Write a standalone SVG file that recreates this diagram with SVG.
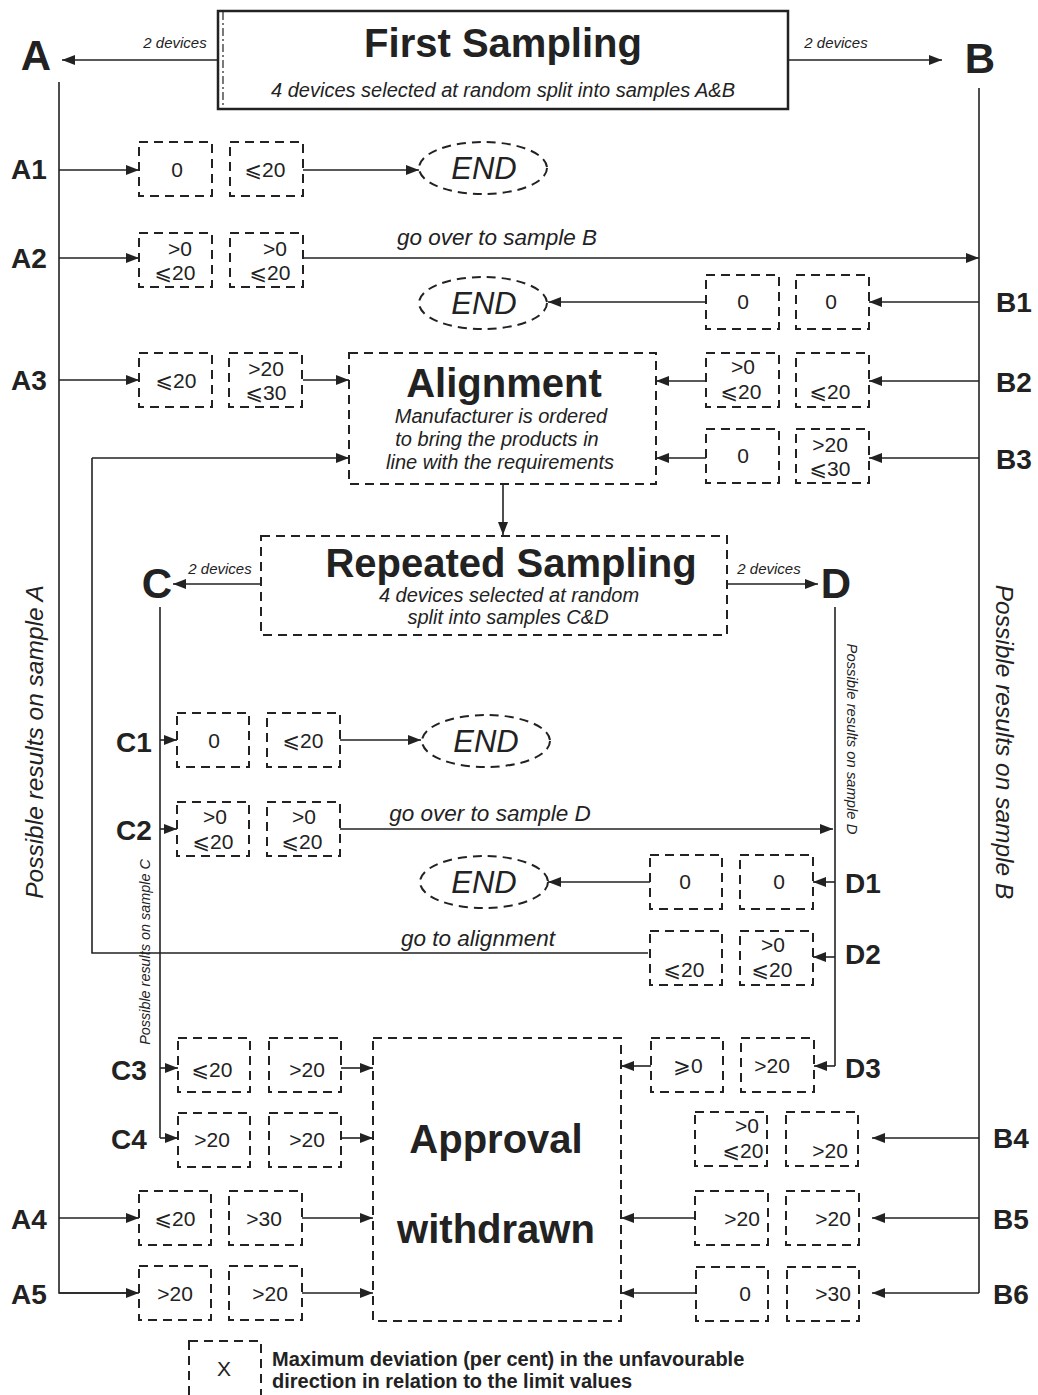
<svg xmlns="http://www.w3.org/2000/svg" width="1038" height="1395" viewBox="0 0 1038 1395">
<style>
.bx{fill:none;stroke:#222;stroke-width:2;stroke-dasharray:9 6}
.ln{fill:none;stroke:#222;stroke-width:1.6}
.ar{fill:none;stroke:#222;stroke-width:1.6;marker-end:url(#ah)}
.t{font-family:"Liberation Sans","DejaVu Sans",sans-serif;fill:#222}
.num{font-size:21px;text-anchor:middle}
.lbl{font-size:28px;font-weight:bold}
.big{font-size:40px;font-weight:bold}
.it{font-style:italic}
.dev{font-size:15px;font-style:italic}
.sub{font-size:20px;font-style:italic;text-anchor:middle}
.go{font-size:22.5px;font-style:italic;text-anchor:middle}
.end{font-size:31px;font-style:italic;text-anchor:middle}
</style>
<defs>
<marker id="ah" markerUnits="userSpaceOnUse" markerWidth="14" markerHeight="12" refX="13" refY="5" orient="auto">
<path d="M0,0 L13,5 L0,10 z" fill="#222"/>
</marker>
</defs>
<rect width="1038" height="1395" fill="#fff"/>

<g id="connectors">
<line class="ar" x1="217" y1="60" x2="62" y2="60"/>
<line class="ar" x1="789" y1="60" x2="942" y2="60"/>
<path class="ln" d="M59,82 V1293 H137"/>
<path class="ar" d="M59,1293 H139"/>
<path class="ln" d="M979,88 V1293"/>
<line class="ar" x1="59" y1="170" x2="139" y2="170"/>
<line class="ar" x1="303" y1="170" x2="419" y2="170"/>
<line class="ar" x1="59" y1="258" x2="139" y2="258"/>
<line class="ar" x1="303" y1="258" x2="979" y2="258"/>
<line class="ar" x1="979" y1="302" x2="869" y2="302"/>
<line class="ar" x1="706" y1="302" x2="548" y2="302"/>
<line class="ar" x1="59" y1="380" x2="139" y2="380"/>
<line class="ar" x1="303" y1="380" x2="349" y2="380"/>
<line class="ar" x1="979" y1="381" x2="869" y2="381"/>
<line class="ar" x1="706" y1="381" x2="656" y2="381"/>
<line class="ar" x1="979" y1="458" x2="869" y2="458"/>
<line class="ar" x1="706" y1="458" x2="656" y2="458"/>
<path class="ln" d="M648,953 H92 V458"/>
<line class="ar" x1="92" y1="458" x2="349" y2="458"/>
<line class="ar" x1="503" y1="484" x2="503" y2="535"/>
<line class="ar" x1="261" y1="584" x2="173" y2="584"/>
<line class="ar" x1="727" y1="584" x2="818" y2="584"/>
<path class="ln" d="M160,607 V1138"/>
<path class="ln" d="M835,607 V1066"/>
<line class="ar" x1="160" y1="740" x2="177" y2="740"/>
<line class="ar" x1="340" y1="740" x2="421" y2="740"/>
<line class="ar" x1="160" y1="829" x2="177" y2="829"/>
<line class="ar" x1="340" y1="829" x2="833" y2="829"/>
<line class="ar" x1="835" y1="882" x2="813" y2="882"/>
<line class="ar" x1="650" y1="882" x2="548" y2="882"/>
<line class="ar" x1="835" y1="957" x2="813" y2="957"/>
<line class="ar" x1="835" y1="1066" x2="814" y2="1066"/>
<line class="ar" x1="651" y1="1066" x2="621" y2="1066"/>
<line class="ar" x1="160" y1="1068" x2="178" y2="1068"/>
<line class="ar" x1="341" y1="1068" x2="373" y2="1068"/>
<line class="ar" x1="160" y1="1138" x2="178" y2="1138"/>
<line class="ar" x1="341" y1="1138" x2="373" y2="1138"/>
<line class="ar" x1="979" y1="1138" x2="872" y2="1138"/>
<line class="ar" x1="59" y1="1218" x2="139" y2="1218"/>
<line class="ar" x1="302" y1="1218" x2="373" y2="1218"/>
<line class="ar" x1="979" y1="1218" x2="872" y2="1218"/>
<line class="ar" x1="695" y1="1218" x2="621" y2="1218"/>
<line class="ar" x1="302" y1="1293" x2="373" y2="1293"/>
<line class="ar" x1="979" y1="1293" x2="872" y2="1293"/>
<line class="ar" x1="696" y1="1293" x2="621" y2="1293"/>
</g>

<g id="first-sampling">
<rect x="218" y="11" width="570" height="98" fill="none" stroke="#222" stroke-width="2.5"/>
<line x1="223" y1="12" x2="223" y2="108" stroke="#222" stroke-width="1.2" stroke-dasharray="8 3 2 3"/>
<text class="t big" x="503" y="57" text-anchor="middle">First Sampling</text>
<text class="t sub" x="503" y="97">4 devices selected at random split into samples A&amp;B</text>
</g>
<g id="label-A"><text class="t" font-size="42" font-weight="bold" x="36" y="70" text-anchor="middle">A</text><text class="t dev" x="175" y="48" text-anchor="middle">2 devices</text></g>
<g id="label-B"><text class="t" font-size="42" font-weight="bold" x="980" y="73" text-anchor="middle">B</text><text class="t dev" x="836" y="48" text-anchor="middle">2 devices</text></g>

<g id="side-labels">
<text class="t it" font-size="24.5" transform="translate(43,742) rotate(-90)" text-anchor="middle">Possible results on sample A</text>
<text class="t it" font-size="24.5" transform="translate(996,742) rotate(90)" text-anchor="middle">Possible results on sample B</text>
<text class="t it" font-size="14.4" transform="translate(150,952) rotate(-90)" text-anchor="middle">Possible results on sample C</text>
<text class="t it" font-size="14.8" transform="translate(847,739) rotate(90)" text-anchor="middle">Possible results on sample D</text>
</g>

<g id="row-labels" class="t lbl">
<text x="11" y="179">A1</text>
<text x="11" y="268">A2</text>
<text x="11" y="390">A3</text>
<text x="11" y="1229">A4</text>
<text x="11" y="1304">A5</text>
<text x="996" y="312">B1</text>
<text x="996" y="392">B2</text>
<text x="996" y="469">B3</text>
<text x="993" y="1148">B4</text>
<text x="993" y="1229">B5</text>
<text x="993" y="1304">B6</text>
<text x="116" y="752">C1</text>
<text x="116" y="840">C2</text>
<text x="111" y="1080">C3</text>
<text x="111" y="1149">C4</text>
<text x="845" y="893">D1</text>
<text x="845" y="964">D2</text>
<text x="845" y="1078">D3</text>
</g>

<g id="A1"><rect class="bx" x="139" y="142" width="73" height="54"/><rect class="bx" x="230" y="142" width="73" height="54"/>
<text class="t num" x="177" y="177">0</text><text class="t num" x="265" y="177">⩽20</text></g>
<g id="end1"><ellipse class="bx" cx="483" cy="168" rx="64" ry="26"/><text class="t end" x="484" y="179">END</text></g>
<g id="A2"><rect class="bx" x="139" y="233" width="73" height="54"/><rect class="bx" x="230" y="233" width="73" height="54"/>
<text class="t num" x="180" y="256">&gt;0</text><text class="t num" x="175" y="280">⩽20</text>
<text class="t num" x="275" y="256">&gt;0</text><text class="t num" x="270" y="280">⩽20</text>
<text class="t go" x="497" y="245">go over to sample B</text></g>
<g id="B1"><rect class="bx" x="706" y="275" width="73" height="54"/><rect class="bx" x="796" y="275" width="73" height="54"/>
<text class="t num" x="743" y="309">0</text><text class="t num" x="831" y="309">0</text></g>
<g id="end2"><ellipse class="bx" cx="483" cy="303" rx="64" ry="26"/><text class="t end" x="484" y="314">END</text></g>
<g id="A3"><rect class="bx" x="139" y="353" width="73" height="54"/><rect class="bx" x="229" y="353" width="73" height="54"/>
<text class="t num" x="176" y="388">⩽20</text>
<text class="t num" x="266" y="376">&gt;20</text><text class="t num" x="266" y="400">⩽30</text></g>
<g id="alignment"><rect class="bx" x="349" y="353" width="307" height="131"/>
<text class="t" x="504" y="397" font-size="40" font-weight="bold" text-anchor="middle">Alignment</text>
<text class="t sub" x="501" y="423">Manufacturer is ordered</text>
<text class="t sub" x="497" y="446">to bring the products in</text>
<text class="t sub" x="500" y="469">line with the requirements</text></g>
<g id="B2"><rect class="bx" x="706" y="353" width="73" height="54"/><rect class="bx" x="796" y="353" width="73" height="54"/>
<text class="t num" x="743" y="374">&gt;0</text><text class="t num" x="741" y="399">⩽20</text>
<text class="t num" x="830" y="399">⩽20</text></g>
<g id="B3"><rect class="bx" x="706" y="429" width="73" height="54"/><rect class="bx" x="796" y="429" width="73" height="54"/>
<text class="t num" x="743" y="463">0</text>
<text class="t num" x="830" y="452">&gt;20</text><text class="t num" x="830" y="476">⩽30</text></g>
<text class="t go" x="478" y="946">go to alignment</text>

<g id="repeated-sampling"><rect class="bx" x="261" y="536" width="466" height="99"/>
<text class="t" x="511" y="577" font-size="40" font-weight="bold" text-anchor="middle">Repeated Sampling</text>
<text class="t sub" x="509" y="602">4 devices selected at random</text>
<text class="t sub" x="508" y="624">split into samples C&amp;D</text></g>
<g id="label-C"><text class="t" font-size="42" font-weight="bold" x="157" y="598" text-anchor="middle">C</text><text class="t dev" x="220" y="574" text-anchor="middle">2 devices</text></g>
<g id="label-D"><text class="t" font-size="42" font-weight="bold" x="836" y="598" text-anchor="middle">D</text><text class="t dev" x="769" y="574" text-anchor="middle">2 devices</text></g>

<g id="C1"><rect class="bx" x="177" y="713" width="72" height="54"/><rect class="bx" x="267" y="713" width="73" height="54"/>
<text class="t num" x="214" y="748">0</text><text class="t num" x="303" y="748">⩽20</text></g>
<g id="end3"><ellipse class="bx" cx="486" cy="741" rx="64" ry="26"/><text class="t end" x="486" y="752">END</text></g>
<g id="C2"><rect class="bx" x="177" y="802" width="72" height="54"/><rect class="bx" x="267" y="802" width="73" height="54"/>
<text class="t num" x="215" y="824">&gt;0</text><text class="t num" x="213" y="849">⩽20</text>
<text class="t num" x="304" y="824">&gt;0</text><text class="t num" x="302" y="849">⩽20</text>
<text class="t go" x="490" y="821">go over to sample D</text></g>
<g id="D1"><rect class="bx" x="650" y="855" width="72" height="54"/><rect class="bx" x="740" y="855" width="73" height="54"/>
<text class="t num" x="685" y="889">0</text><text class="t num" x="779" y="889">0</text></g>
<g id="end4"><ellipse class="bx" cx="484" cy="882" rx="64" ry="26"/><text class="t end" x="484" y="893">END</text></g>
<g id="D2"><rect class="bx" x="650" y="931" width="72" height="54"/><rect class="bx" x="740" y="931" width="73" height="54"/>
<text class="t num" x="684" y="977">⩽20</text>
<text class="t num" x="773" y="952">&gt;0</text><text class="t num" x="772" y="977">⩽20</text></g>
<g id="D3"><rect class="bx" x="651" y="1038" width="72" height="54"/><rect class="bx" x="741" y="1038" width="73" height="54"/>
<text class="t num" x="688" y="1073">⩾0</text><text class="t num" x="772" y="1073">&gt;20</text></g>
<g id="C3"><rect class="bx" x="178" y="1038" width="72" height="54"/><rect class="bx" x="269" y="1038" width="72" height="54"/>
<text class="t num" x="212" y="1077">⩽20</text><text class="t num" x="307" y="1077">&gt;20</text></g>
<g id="C4"><rect class="bx" x="178" y="1113" width="72" height="54"/><rect class="bx" x="269" y="1113" width="72" height="54"/>
<text class="t num" x="212" y="1147">&gt;20</text><text class="t num" x="307" y="1147">&gt;20</text></g>
<g id="approval"><rect class="bx" x="373" y="1038" width="248" height="283"/>
<text class="t big" x="496" y="1153" text-anchor="middle">Approval</text>
<text class="t big" x="496" y="1243" text-anchor="middle">withdrawn</text></g>
<g id="B4"><rect class="bx" x="695" y="1112" width="72" height="54"/><rect class="bx" x="786" y="1112" width="72" height="54"/>
<text class="t num" x="747" y="1133">&gt;0</text><text class="t num" x="743" y="1158">⩽20</text>
<text class="t num" x="830" y="1158">&gt;20</text></g>
<g id="A4"><rect class="bx" x="139" y="1191" width="72" height="54"/><rect class="bx" x="229" y="1191" width="73" height="54"/>
<text class="t num" x="175" y="1226">⩽20</text><text class="t num" x="264" y="1226">&gt;30</text></g>
<g id="B5"><rect class="bx" x="695" y="1191" width="73" height="54"/><rect class="bx" x="786" y="1191" width="73" height="54"/>
<text class="t num" x="742" y="1226">&gt;20</text><text class="t num" x="833" y="1226">&gt;20</text></g>
<g id="A5"><rect class="bx" x="139" y="1266" width="72" height="54"/><rect class="bx" x="229" y="1266" width="73" height="54"/>
<text class="t num" x="175" y="1301">&gt;20</text><text class="t num" x="270" y="1301">&gt;20</text></g>
<g id="B6"><rect class="bx" x="696" y="1267" width="72" height="54"/><rect class="bx" x="787" y="1267" width="72" height="54"/>
<text class="t num" x="745" y="1301">0</text><text class="t num" x="833" y="1301">&gt;30</text></g>

<g id="legend"><rect class="bx" x="189" y="1341" width="72" height="60"/>
<text class="t num" x="224" y="1376">X</text>
<text class="t" x="272" y="1366" font-size="20" font-weight="bold">Maximum deviation (per cent) in the unfavourable</text>
<text class="t" x="272" y="1388" font-size="20" font-weight="bold">direction in relation to the limit values</text></g>
</svg>
